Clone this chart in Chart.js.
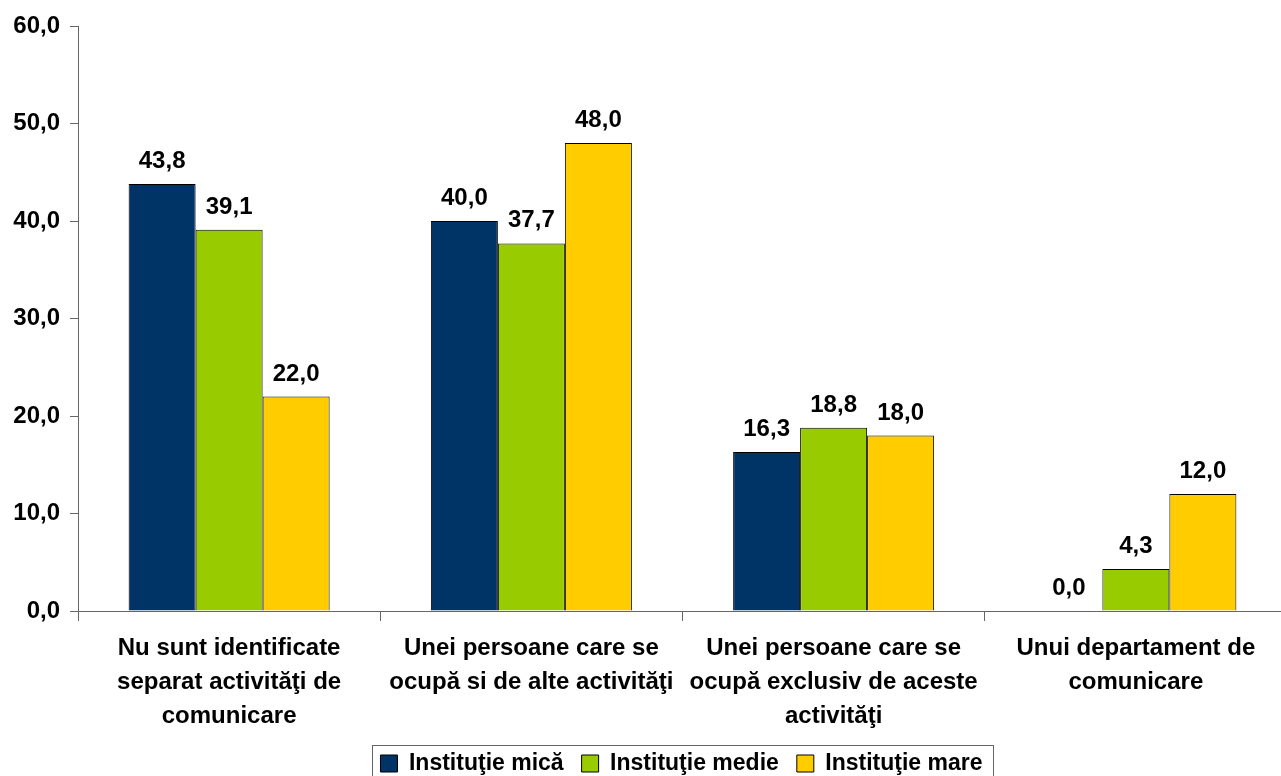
<!DOCTYPE html>
<html lang="ro">
<head>
<meta charset="UTF-8">
<title>Comunicare</title>
<style>
  html, body { margin: 0; padding: 0; background: #fff; }
  #wrap { width: 1281px; height: 776px; }
</style>
</head>
<body>
<div id="wrap"><canvas id="grafic"></canvas></div>

<script src="https://cdn.jsdelivr.net/npm/chart.js"></script>
<script>
// date
const categorii = [
  ['Nu sunt identificate', 'separat activităţi de', 'comunicare'],
  ['Unei persoane care se', 'ocupă si de alte activităţi'],
  ['Unei persoane care se', 'ocupă exclusiv de aceste', 'activităţi'],
  ['Unui departament de', 'comunicare']
];
const serii = ['Instituţie mică', 'Instituţie medie', 'Instituţie mare'];
const valoriMica = [43.8, 40.0, 16.3, 0.0];
const valoriMedie = [39.1, 37.7, 18.8, 4.3];
const valoriMare = [22.0, 48.0, 18.0, 12.0];
const culori = ['#003366', '#99CC00', '#FFCC00'];
const yMin = 0, yMax = 60, yPas = 10;

const virgula = v => v.toFixed(1).replace('.', ',');
const fontFam = '"Liberation Sans", Arial, sans-serif';

// etichete deasupra barelor
const eticheteValori = {
  id: 'eticheteValori',
  afterDatasetsDraw(chart) {
    const ctx = chart.ctx;
    ctx.save();
    ctx.font = 'bold 24px ' + fontFam;
    ctx.fillStyle = '#000';
    ctx.textAlign = 'center';
    ctx.textBaseline = 'alphabetic';
    chart.data.datasets.forEach((ds, i) => {
      chart.getDatasetMeta(i).data.forEach((bar, j) => {
        ctx.fillText(virgula(ds.data[j]), bar.x, bar.y - 16);
      });
    });
    ctx.restore();
  }
};

// axa x ceva mai lata decat canvasul, legenda mutata + chenar
const asezare = {
  id: 'asezare',
  afterLayout(chart) {
    const xs = chart.scales.x;
    xs.right = 1287;
    xs.width = xs.right - xs.left;
    xs.bottom = chart.height;
    xs.configure();
    chart.chartArea.right = 1287;
    chart.chartArea.width = chart.chartArea.right - chart.chartArea.left;
    const lg = chart.legend;
    lg.left = 82;
    lg.top = 734;
    lg.bottom = 800;
  },
  afterDraw(chart) {
    const hb = chart.legend.legendHitBoxes;
    if (!hb || !hb.length) return;
    const ctx = chart.ctx;
    const st = hb[0].left - 8;
    const dr = hb[hb.length - 1].left + hb[hb.length - 1].width + 11;
    const sus = hb[0].top - 7;
    ctx.save();
    ctx.strokeStyle = '#666';
    ctx.lineWidth = 1;
    ctx.strokeRect(Math.round(st) + 0.5, Math.round(sus) + 0.5, Math.round(dr - st), 60);
    ctx.restore();
  }
};

const ctx = document.getElementById('grafic').getContext('2d');
new Chart(ctx, {
  type: 'bar',
  data: {
    labels: categorii,
    datasets: [
      { label: serii[0], data: valoriMica, backgroundColor: culori[0] },
      { label: serii[1], data: valoriMedie, backgroundColor: culori[1] },
      { label: serii[2], data: valoriMare, backgroundColor: culori[2] }
    ].map(d => Object.assign(d, {
      borderColor: '#000',
      borderWidth: 1,
      categoryPercentage: 0.665,
      barPercentage: 1
    }))
  },
  options: {
    responsive: true,
    maintainAspectRatio: false,
    animation: false,
    layout: { padding: { top: 26, left: 0, right: 0, bottom: 0 } },
    scales: {
      x: {
        grid: { offset: true, drawOnChartArea: false, drawTicks: true, tickLength: 10, color: '#666' },
        border: { display: true, color: '#666' },
        ticks: {
          color: '#000',
          padding: 10,
          maxRotation: 0,
          autoSkip: false,
          font: { family: fontFam, size: 24, weight: 'bold', lineHeight: 34 / 24 }
        },
        afterFit(scale) { scale.height = 114; }
      },
      y: {
        min: yMin,
        max: yMax,
        grid: { drawOnChartArea: false, drawTicks: true, tickLength: 8, color: '#666' },
        border: { display: true, color: '#666' },
        ticks: {
          stepSize: yPas,
          color: '#000',
          padding: 10,
          font: { family: fontFam, size: 24, weight: 'bold' },
          callback: v => virgula(v)
        },
        afterFit(scale) { scale.width = 78; }
      }
    },
    plugins: {
      legend: {
        position: 'bottom',
        labels: {
          color: '#000',
          boxWidth: 17,
          boxHeight: 17,
          padding: 18,
          font: { family: fontFam, size: 23, weight: 'bold' }
        }
      },
      tooltip: { enabled: false }
    }
  },
  plugins: [eticheteValori, asezare]
});
</script>
</body>
</html>
